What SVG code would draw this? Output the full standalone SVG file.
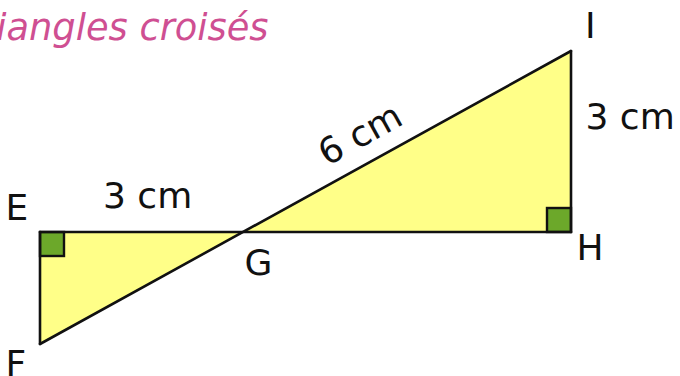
<svg xmlns="http://www.w3.org/2000/svg" width="680" height="376" viewBox="0 0 680 376">
<style>
.lbl{font-family:"DejaVu Sans","Noto Sans",sans-serif;font-size:36px;fill:#111}
.tri{fill:#ffff88;stroke:none}
.edge{stroke:#111;stroke-width:2.6;fill:none;stroke-linecap:round;stroke-linejoin:round}
.sq{fill:#6ca82a;stroke:#111;stroke-width:2.4}
.title{font-family:"DejaVu Sans","Noto Sans",sans-serif;font-style:italic;font-size:36.8px;fill:#cf4f92}
</style>
<rect width="680" height="376" fill="#ffffff"/>
<text class="title" x="-38.5" y="40">Triangles croisés</text>
<g id="triangle-EGF">
<polygon class="tri" points="40,232 243,232 40,344"/>
<rect class="sq" x="40" y="232" width="24" height="24"/>
</g>
<g id="triangle-GHI">
<polygon class="tri" points="243,232 571,232 571,51"/>
<rect class="sq" x="547" y="208" width="24" height="24"/>
</g>
<g id="connectors">
<line class="edge" x1="40" y1="232" x2="571" y2="232"/>
<line class="edge" x1="40" y1="232" x2="40" y2="344"/>
<line class="edge" x1="40" y1="344" x2="571" y2="51"/>
<line class="edge" x1="571" y1="232" x2="571" y2="51"/>
</g>
<g id="labels">
<text class="lbl" x="5.5" y="220">E</text>
<text class="lbl" x="103" y="208">3 cm</text>
<text class="lbl" x="244.5" y="275">G</text>
<text class="lbl" x="576.5" y="260">H</text>
<text class="lbl" x="585" y="38">I</text>
<text class="lbl" x="585.5" y="128.5">3 cm</text>
<text class="lbl" x="5.5" y="376">F</text>
<text class="lbl" text-anchor="middle" x="366" y="145" transform="rotate(-28.9 366 145)">6 cm</text>
</g>
</svg>
